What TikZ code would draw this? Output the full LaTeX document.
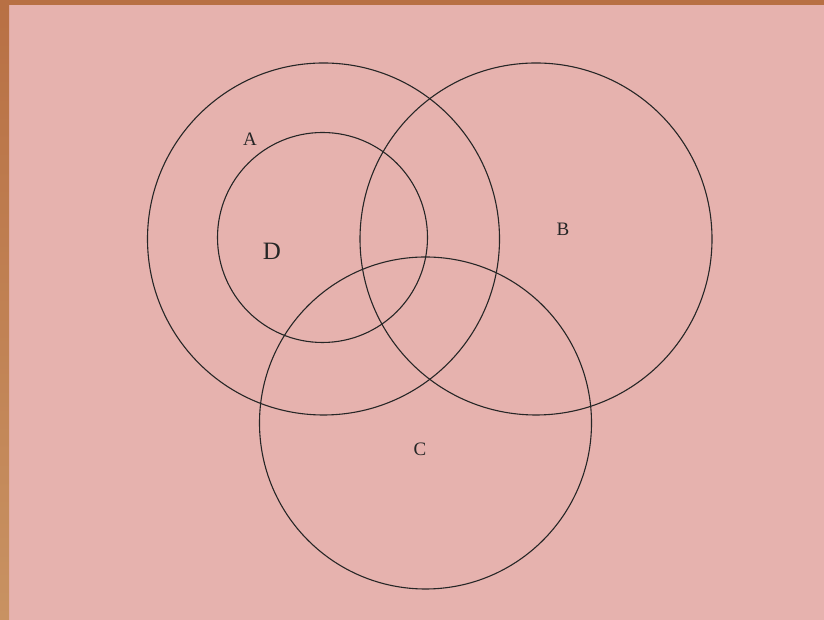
\documentclass[tikz,border=0pt]{standalone}
\usepackage{fontspec}
\setmainfont{Liberation Serif}
\definecolor{bgpink}{HTML}{E6B2AE}
\definecolor{topbar}{HTML}{B87044}
\definecolor{leftbot}{HTML}{C89262}
\begin{document}
\begin{tikzpicture}[x=1pt,y=1pt,
  venn/.style={draw=black!85,line width=1.1pt},
  lab/.style={font=\fontsize{19}{19}\selectfont,text=black!85,inner sep=0pt},
  biglab/.style={font=\fontsize{25}{25}\selectfont,text=black!85,inner sep=0pt}]
\useasboundingbox (0,0) rectangle (824,620);
\fill[bgpink] (0,0) rectangle (824,620);
\fill[topbar] (0,615) rectangle (824,620);
\shade[top color=topbar,bottom color=leftbot] (0,0) rectangle (9,620);
% circles (pixel coords, y flipped)
\draw[venn] (323.5,381) circle (176);
\draw[venn] (322.5,382.5) circle (105);
\draw[venn] (536,381) circle (176);
\draw[venn] (425.5,197) circle (166);
\node[lab] (A) at (250,481) {A};
\node[biglab] (D) at (272,369) {D};
\node[lab] (B) at (563,391) {B};
\node[lab] (C) at (420,171) {C};
\end{tikzpicture}
\end{document}
